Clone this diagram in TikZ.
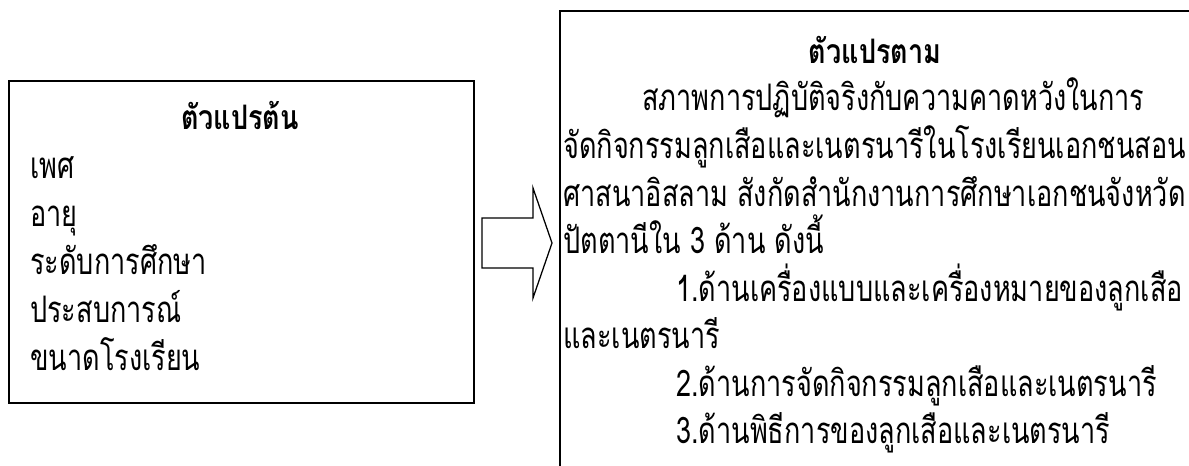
\documentclass[tikz,border=0pt]{standalone}
\usepackage{fontspec}
\newfontfamily\thaifont[Script=Thai,FakeStretch=0.74]{Loma}
\newfontfamily\thaihead[Script=Thai,FakeStretch=0.8]{Loma}
\usetikzlibrary{positioning}

\tikzset{
  boxline/.style={draw=black, line width=1.2pt, inner sep=0pt},
  arrowline/.style={draw=black, line width=0.9pt, line join=miter},
  headtext/.style={font=\thaihead\bfseries\fontsize{24}{28}\selectfont, inner sep=0pt, anchor=base},
  bodytext/.style={font=\thaifont\fontsize{26}{30}\selectfont, inner sep=0pt, anchor=base west},
}

\begin{document}
\begin{tikzpicture}[x=0.025cm,y=-0.025cm]
\useasboundingbox (0,0) rectangle (1189,466);
\clip (0,0) rectangle (1189,466);

% independent variables
\node[boxline, anchor=north west, minimum width=11.625cm, minimum height=8.05cm] (ivbox) at (8,80) {};
\node[headtext] (ivtitle) at (240,130) {ตัวแปรต้น};
\foreach \t [count=\i] in {เพศ,อายุ,ระดับการศึกษา,ประสบการณ์,ขนาดโรงเรียน}
  \node[bodytext] (iv\i) at (30,{130+48*\i}) {\t};

% block arrow
\draw[arrowline] (482,218) -- (533,218) -- (533,188) -- (552,243)
  -- (533,298) -- (533,268) -- (482,268) -- cycle;

% dependent variables
\node[boxline, anchor=north west, minimum width=16cm, minimum height=12cm] (dvbox) at (559,10) {};
\node[headtext] (dvtitle) at (875,64) {ตัวแปรตาม};
\node[bodytext] (dv1) at (642,111) {สภาพการปฏิบัติจริงกับความคาดหวังในการ};
\node[bodytext] (dv2) at (563,158) {จัดกิจกรรมลูกเสือและเนตรนารีในโรงเรียนเอกชนสอน};
\node[bodytext] (dv3) at (563,206) {ศาสนาอิสลาม สังกัดสำนักงานการศึกษาเอกชนจังหวัด};
\node[bodytext] (dv4) at (563,253) {ปัตตานีใน 3 ด้าน ดังนี้};
\node[bodytext] (dv5) at (676,301) {1.ด้านเครื่องแบบและเครื่องหมายของลูกเสือ};
\node[bodytext] (dv6) at (563,348) {และเนตรนารี};
\node[bodytext] (dv7) at (676,396) {2.ด้านการจัดกิจกรรมลูกเสือและเนตรนารี};
\node[bodytext] (dv8) at (676,443) {3.ด้านพิธีการของลูกเสือและเนตรนารี};
\end{tikzpicture}
\end{document}
